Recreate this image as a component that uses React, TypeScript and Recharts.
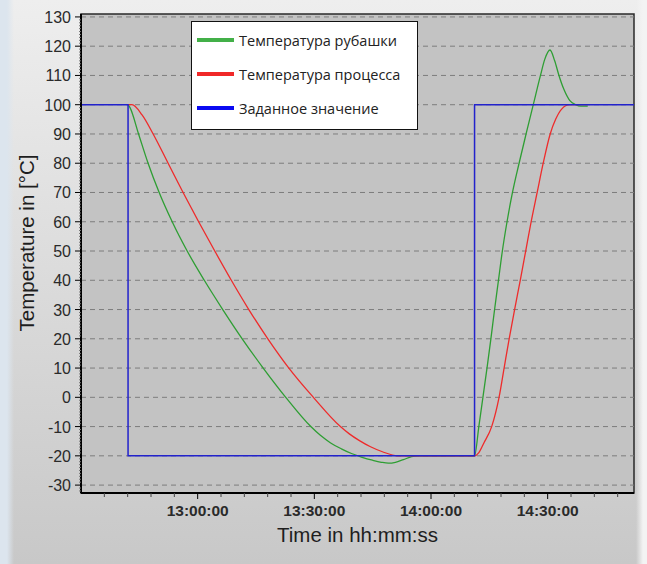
import { Legend, Line, LineChart, ReferenceArea, ReferenceLine, XAxis, YAxis } from 'recharts'

// time in minutes since midnight, temperature in °C
const jacket = [
  { t: 762.1, v: 100 }, { t: 762.6, v: 99 }, { t: 764.8, v: 90 }, { t: 767.25, v: 80 },
  { t: 770.1, v: 70 }, { t: 773.45, v: 60 }, { t: 777.3, v: 50 }, { t: 781.7, v: 40 },
  { t: 786.45, v: 30 }, { t: 791.45, v: 20 }, { t: 796.85, v: 10 }, { t: 802.65, v: 0 },
  { t: 809.1, v: -10 }, { t: 811.55, v: -13 }, { t: 814.1, v: -15.5 }, { t: 816.95, v: -17.6 },
  { t: 819.55, v: -19.2 }, { t: 822.1, v: -20.4 }, { t: 824.95, v: -21.5 }, { t: 827.25, v: -22.2 },
  { t: 829.05, v: -22.5 }, { t: 830.85, v: -22.2 }, { t: 832.9, v: -21.3 }, { t: 835.0, v: -20.3 },
  { t: 836.5, v: -20 }, { t: 851.2, v: -20 },
  { t: 852.3, v: -10 }, { t: 853.35, v: 0 }, { t: 854.4, v: 10 }, { t: 855.4, v: 20 },
  { t: 856.35, v: 30 }, { t: 857.35, v: 40 }, { t: 858.35, v: 50 }, { t: 859.55, v: 60 },
  { t: 860.95, v: 70 }, { t: 862.65, v: 80 }, { t: 864.45, v: 90 }, { t: 866.3, v: 100 },
  { t: 868.15, v: 110 }, { t: 869.25, v: 115.5 }, { t: 870.6, v: 118.7 }, { t: 871.8, v: 115 },
  { t: 872.9, v: 110 }, { t: 874.25, v: 105 }, { t: 875.65, v: 101.5 }, { t: 877.2, v: 100 },
  { t: 878.5, v: 99.5 }, { t: 880.3, v: 99.5 },
]

const process = [
  { t: 762.1, v: 100 }, { t: 763.1, v: 100 }, { t: 765.7, v: 96.5 }, { t: 768.55, v: 90 },
  { t: 772.4, v: 80 }, { t: 776.25, v: 70 }, { t: 780.25, v: 60 }, { t: 784.4, v: 50 },
  { t: 788.65, v: 40 }, { t: 793.15, v: 30 }, { t: 798.05, v: 20 }, { t: 803.45, v: 10 },
  { t: 809.75, v: 0 }, { t: 816.7, v: -10 }, { t: 819.0, v: -12.5 }, { t: 821.6, v: -14.8 },
  { t: 824.45, v: -16.9 }, { t: 827.5, v: -18.6 }, { t: 831.4, v: -20 }, { t: 851.2, v: -20 },
  { t: 852.25, v: -19 }, { t: 853.6, v: -15.6 },
  { t: 855.6, v: -10 }, { t: 857.5, v: 0 }, { t: 858.8, v: 10 }, { t: 860.1, v: 20 },
  { t: 861.5, v: 30 }, { t: 862.95, v: 40 }, { t: 864.35, v: 50 }, { t: 865.75, v: 60 },
  { t: 867.3, v: 70 }, { t: 868.85, v: 80 }, { t: 870.65, v: 90 }, { t: 872.05, v: 95 },
  { t: 873.6, v: 98.5 }, { t: 875.65, v: 100 }, { t: 880.3, v: 100 },
]

const setpoint = [
  { t: 750, v: 100 }, { t: 762.1, v: 100 }, { t: 762.1, v: 40 }, { t: 762.1, v: -20 },
  { t: 851.2, v: -20 }, { t: 851.2, v: 40 }, { t: 851.2, v: 100 }, { t: 892.2, v: 100 },
]

const X_DOMAIN = [750, 892.2]
const Y_DOMAIN = [-32.7, 131]
const X_TICKS = [756, 762, 768, 774, 780, 786, 792, 798, 804, 810, 816, 822, 828, 834, 840, 846, 852, 858, 864, 870, 876, 882, 888]
const X_LABELED = [780, 810, 840, 870]
const Y_MAJOR = [130, 120, 110, 100, 90, 80, 70, 60, 50, 40, 30, 20, 10, 0, -10, -20, -30]

const yTicks: number[] = []
for (let v = -32; v <= 130; v++) yTicks.push(v)

const legendItems = [
  { name: 'Температура рубашки', color: '#43b048' },
  { name: 'Температура процесса', color: '#f02828' },
  { name: 'Заданное значение', color: '#0a0af2' },
]

const TICK_FONT = '"Liberation Sans", Arial, sans-serif'

function hhmmss(min: number): string {
  const h = Math.floor(min / 60)
  const m = Math.round(min % 60)
  return `${h}:${String(m).padStart(2, '0')}:00`
}

function XTick(props: any) {
  const { x, y, payload } = props
  const major = X_LABELED.includes(payload.value)
  return (
    <g>
      <line x1={x} x2={x} y1={y} y2={y + (major ? 6 : 4)} stroke={major ? '#000' : '#444'} />
      {major && (
        <text x={x} y={y + 23} textAnchor="middle" fontFamily={TICK_FONT} fontSize={15.5} fontWeight="bold" fill="#2a2a2a">
          {hhmmss(payload.value)}
        </text>
      )}
    </g>
  )
}

function YTick(props: any) {
  const { x, y, payload } = props
  const major = Y_MAJOR.includes(payload.value)
  return (
    <g>
      <line x1={x - (major ? 6 : 2)} x2={x} y1={y} y2={y} stroke={major ? '#000' : '#777'} />
      {major && (
        <text x={x - 10} y={y + 6} textAnchor="end" fontFamily={TICK_FONT} fontSize={16} fill="#2a2a2a">
          {payload.value}
        </text>
      )}
    </g>
  )
}

function YTitle() {
  return (
    <text x={34} y={243} transform="rotate(-90 34 243)" textAnchor="middle" fontFamily={TICK_FONT} fontSize={20.5} fill="#1e1e1e">
      Temperature in [°C]
    </text>
  )
}

function LegendBox() {
  return (
    <div style={{ width: 227, height: 109, boxSizing: 'border-box', background: '#fff', border: '1px solid #111', paddingTop: 1, fontFamily: '"Open Sans", sans-serif', fontSize: 14.5, color: '#222' }}>
      {legendItems.map(it => (
        <div key={it.name} style={{ display: 'flex', alignItems: 'center', height: 34 }}>
          <span style={{ display: 'inline-block', width: 37, height: 4, background: it.color, marginLeft: 5, marginRight: 5 }} />
          <span>{it.name}</span>
        </div>
      ))}
    </div>
  )
}

export default function App() {
  return (
    <div style={{
      position: 'absolute', left: 0, top: 0, width: 647, height: 564,
      background: 'linear-gradient(to right, #dce5ee 0px, #dce5ee 7px, rgba(0,0,0,0) 14px, rgba(0,0,0,0) 636px, #f3f3f3 643px), linear-gradient(to bottom, #eeeeee, #c8c8c8)',
    }}>
      <LineChart width={647} height={564} data={setpoint} margin={{ top: 14, right: 13, bottom: 0, left: 0 }}>
        <ReferenceArea x1={X_DOMAIN[0]} x2={X_DOMAIN[1]} y1={Y_DOMAIN[0]} y2={Y_DOMAIN[1]} fill="#c3c3c3" fillOpacity={1} stroke="#2a2a2a" strokeWidth={1.5} />
        {Y_MAJOR.map(v => (
          <ReferenceLine key={v} y={v} stroke="#7d7d7d" strokeDasharray="5 4" />
        ))}
        <XAxis
          type="number" dataKey="t" domain={X_DOMAIN} ticks={X_TICKS} interval={0}
          height={71} tickSize={0} tickMargin={0} tick={<XTick />}
          axisLine={{ stroke: '#000', strokeWidth: 2 }}
          label={{ value: 'Time in hh:mm:ss', position: 'insideBottom', offset: 22, fontFamily: TICK_FONT, fontSize: 20.5, fill: '#1e1e1e' }}
        />
        <YAxis
          type="number" domain={Y_DOMAIN} ticks={yTicks} interval={0}
          width={81} tickSize={0} tickMargin={0} tick={<YTick />}
          axisLine={{ stroke: '#000', strokeWidth: 2 }}
          label={{ content: <YTitle /> }}
        />
        <Legend layout="vertical" align="center" verticalAlign="middle" content={<LegendBox />}
          wrapperStyle={{ position: 'absolute', left: 191, top: 21, width: 227, height: 109 }} />
        <Line data={jacket} dataKey="v" type="monotone" stroke="#2e9e33" strokeWidth={1.3} dot={false} isAnimationActive={false} />
        <Line data={process} dataKey="v" type="monotone" stroke="#ee2b2b" strokeWidth={1.3} dot={false} isAnimationActive={false} />
        <Line data={setpoint} dataKey="v" type="linear" stroke="#2222cc" strokeWidth={1.5} dot={false} isAnimationActive={false} />
      </LineChart>
    </div>
  )
}
